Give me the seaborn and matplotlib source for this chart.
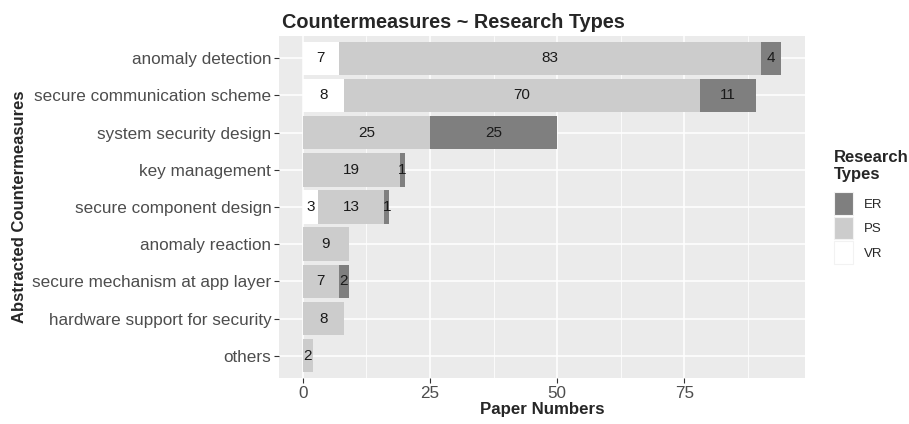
import matplotlib
matplotlib.use("Agg")
import matplotlib.pyplot as plt
import seaborn as sns
import pandas as pd
import numpy as np
from matplotlib.patches import Patch

categories = ["anomaly detection", "secure communication scheme", "system security design",
              "key management", "secure component design", "anomaly reaction",
              "secure mechanism at app layer", "hardware support for security", "others"]
vr = [7, 8, 0, 0, 3, 0, 0, 0, 0]
ps = [83, 70, 25, 19, 13, 9, 7, 8, 2]
er = [4, 11, 25, 1, 1, 0, 2, 0, 0]
types = ["ER", "PS", "VR"]
colors = {"ER": "#7f7f7f", "PS": "#cccccc", "VR": "#ffffff"}
xticks = [0, 25, 50, 75]

sns.set_theme(style="darkgrid")
plt.rcParams["font.family"] = ["Liberation Sans", "DejaVu Sans"]

df = pd.DataFrame({"cat": categories, "VR": vr, "PS": ps, "ER": er})
df["c_vr"] = df["VR"]
df["c_ps"] = df["VR"] + df["PS"]
df["c_er"] = df["VR"] + df["PS"] + df["ER"]

fig = plt.figure(figsize=(9.09, 4.24), dpi=100)
ax = fig.add_axes([279/909, 1-378/424, (805-279)/909, (378-36)/424])
ax.set_facecolor("#ebebeb")

for col, t in [("c_er", "ER"), ("c_ps", "PS"), ("c_vr", "VR")]:
    sns.barplot(data=df, y="cat", x=col, order=categories, color=colors[t],
                width=0.9, orient="h", ax=ax, saturation=1, linewidth=0, zorder=3)

# labels
for i, row in df.iterrows():
    segs = [(row["VR"], 0), (row["PS"], row["VR"]), (row["ER"], row["VR"] + row["PS"])]
    for val, start in segs:
        if val > 0:
            ax.text(start + val/2, i, str(val), ha="center", va="center",
                    fontsize=11, color="#1a1a1a", zorder=4)

xmax = df["c_er"].max()
ax.set_xlim(-0.05*xmax, xmax*1.05)
ax.set_ylim(len(categories) - 0.4, -0.6)
ax.set_xticks(xticks)
ax.set_xticks([12.5, 37.5, 62.5, 87.5], minor=True)
ax.grid(which="major", color="white", linewidth=1.1, zorder=0)
ax.grid(which="minor", axis="x", color="white", linewidth=0.55, zorder=0)
ax.set_axisbelow(True)
for s in ax.spines.values():
    s.set_visible(False)
ax.tick_params(axis="both", which="major", length=3.5, width=0.8, color="#333333",
               labelsize=12.3, labelcolor="#4d4d4d", pad=2, bottom=True, left=True)
ax.tick_params(axis="both", which="minor", length=0)
ax.set_xlabel("Paper Numbers", fontsize=12.2, fontweight="bold", labelpad=1)
ax.set_ylabel("Abstracted Countermeasures", fontsize=12, fontweight="bold", labelpad=4)
ax.set_title("Countermeasures ~ Research Types", fontsize=14.3, fontweight="bold",
             loc="left", pad=6, x=0.006)

handles = [Patch(facecolor=colors[t], edgecolor="#f2f2f2", linewidth=0.8, label=t) for t in types]
leg = fig.legend(handles=handles, title="Research\nTypes", loc="upper left",
                 bbox_to_anchor=(822/909, 1-138/424), frameon=False, fontsize=9.5,
                 title_fontproperties={"weight": "bold", "size": 12},
                 handlelength=1.45, handleheight=2.3, labelspacing=0.12, handletextpad=0.8)
leg._legend_box.align = "left"
leg._legend_box.sep = 7

fig.savefig("out.png", dpi=100)
